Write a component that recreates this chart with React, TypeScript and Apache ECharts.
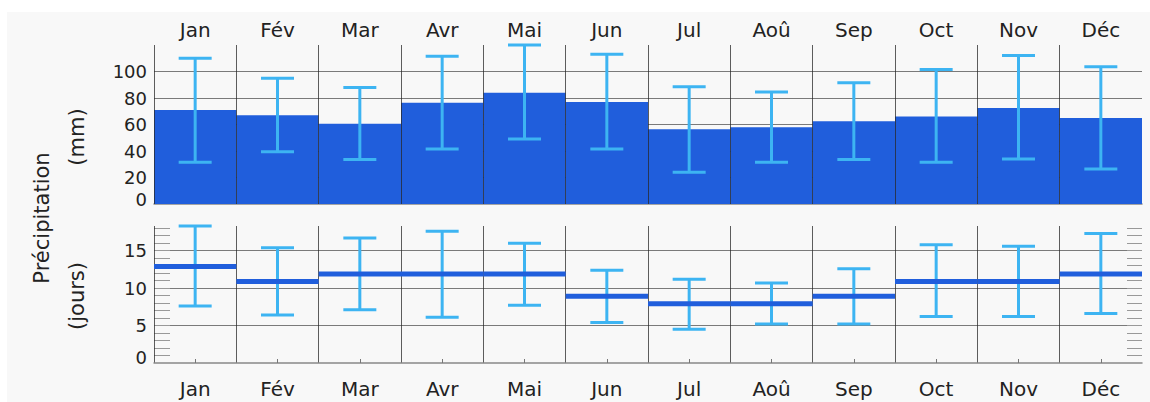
import React, { useEffect, useRef } from "react";
import * as echarts from "echarts";

const months = ["Jan", "Fév", "Mar", "Avr", "Mai", "Jun", "Jul", "Aoû", "Sep", "Oct", "Nov", "Déc"];

const precipMean = [71, 67, 60.5, 76.5, 84, 77, 56.5, 58, 62.5, 66, 72.5, 65];
const precipHigh = [110, 95, 88, 111.5, 120, 113, 88.5, 84.5, 91.5, 101.5, 112, 103.5];
const precipLow = [31.5, 39.5, 33.5, 41.5, 49, 41.5, 24, 31.5, 33.5, 31.5, 34, 26.5];

const daysMean = [12.9, 10.9, 11.9, 11.9, 11.9, 8.9, 7.9, 7.9, 8.9, 10.9, 10.9, 11.9];
const daysHigh = [18.3, 15.4, 16.7, 17.6, 16.0, 12.4, 11.2, 10.7, 12.6, 15.8, 15.6, 17.3];
const daysLow = [7.6, 6.4, 7.1, 6.1, 7.7, 5.4, 4.5, 5.2, 5.2, 6.2, 6.2, 6.6];

const precipLabels = [0, 20, 40, 60, 80, 100];
const daysLabels = [0, 5, 10, 15];
const daysMinorTicks = [1, 2, 3, 4, 5, 6, 7, 8, 9, 10, 11, 12, 13, 14, 15, 16, 17, 18];

const FONT = "DejaVu Sans";
const TXT = "#222";
const BAR = "#205edc";
const ERR = "#3db4f2";
const GRID = "#7a7a7a";
const VLINE = "rgba(40,40,40,0.75)";

export default function App() {
  const ref = useRef<HTMLDivElement>(null);

  useEffect(() => {
    if (!ref.current) return;
    const chart = echarts.init(ref.current, undefined, { renderer: "svg" });

    const errRender = (params: any, api: any) => {
      const lo = api.coord([api.value(0), api.value(1)]);
      const hi = api.coord([api.value(0), api.value(2)]);
      const half = 16.5;
      const style = { stroke: ERR, lineWidth: 3 };
      return {
        type: "group",
        children: [
          { type: "line", shape: { x1: lo[0], y1: lo[1], x2: hi[0], y2: hi[1] }, style },
          { type: "line", shape: { x1: hi[0] - half, y1: hi[1], x2: hi[0] + half, y2: hi[1] }, style },
          { type: "line", shape: { x1: lo[0] - half, y1: lo[1], x2: lo[0] + half, y2: lo[1] }, style },
        ],
      };
    };

    const meanRender = (params: any, api: any) => {
      const c = api.coord([api.value(0), api.value(1)]);
      const w = api.size([1, 0])[0];
      return {
        type: "line",
        shape: { x1: c[0] - w / 2, y1: c[1], x2: c[0] + w / 2, y2: c[1] },
        style: { stroke: BAR, lineWidth: 5 },
      };
    };

    const labelStyle = { fontSize: 18, fontFamily: FONT, color: TXT };

    chart.setOption({
      animation: false,
      textStyle: { fontFamily: FONT },
      grid: [
        { left: 154, top: 45, width: 988, height: 159 },
        { left: 154, top: 226, width: 988, height: 137 },
      ],
      xAxis: [
        {
          type: "category",
          gridIndex: 0,
          data: months,
          position: "top",
          z: 3,
          axisLine: { show: false },
          axisTick: { show: false },
          axisLabel: { interval: 0, margin: 5, fontSize: 20, fontFamily: FONT, color: TXT },
          splitLine: { show: true, interval: 0, showMaxLine: false, lineStyle: { color: VLINE, width: 1 } },
        },
        {
          type: "category",
          gridIndex: 0,
          data: months,
          position: "bottom",
          axisLine: { show: true, lineStyle: { color: "#888", width: 1.5 } },
          axisTick: { show: true, inside: true, alignWithLabel: true, interval: 0, length: 4, lineStyle: { color: "#777" } },
          axisLabel: { show: false },
          splitLine: { show: false },
        },
        {
          type: "category",
          gridIndex: 1,
          data: months,
          position: "bottom",
          z: 3,
          axisLine: { show: true, lineStyle: { color: "#888", width: 1.5 } },
          axisTick: { show: true, inside: true, alignWithLabel: true, interval: 0, length: 4, lineStyle: { color: "#777" } },
          axisLabel: { interval: 0, margin: 16, fontSize: 20, lineHeight: 20, fontFamily: FONT, color: TXT },
          splitLine: { show: true, interval: 0, showMaxLine: false, lineStyle: { color: VLINE, width: 1 } },
        },
      ],
      yAxis: [
        {
          type: "value",
          gridIndex: 0,
          min: 0,
          max: 120,
          interval: 20,
          axisLine: { show: false },
          axisTick: { show: false },
          axisLabel: {
            customValues: precipLabels,
            margin: 7,
            ...labelStyle,
            formatter: (v: number) => (v === 0 ? "{z|0}" : String(v)),
            rich: { z: { ...labelStyle, padding: [0, 0, 10, 0] } },
          },
          splitLine: { show: true, showMinLine: false, showMaxLine: false, lineStyle: { color: GRID, width: 1 } },
        },
        {
          type: "value",
          gridIndex: 1,
          min: 0,
          max: 18.3,
          interval: 5,
          axisLine: { show: false },
          axisTick: { show: false },
          axisLabel: {
            customValues: daysLabels,
            margin: 7,
            ...labelStyle,
            formatter: (v: number) => (v === 0 ? "{z|0}" : String(v)),
            rich: { z: { ...labelStyle, padding: [0, 0, 12, 0] } },
          },
          splitLine: { show: true, showMinLine: false, showMaxLine: false, lineStyle: { color: GRID, width: 1 } },
        },
        {
          type: "value",
          gridIndex: 1,
          min: 0,
          max: 18.3,
          position: "left",
          axisLine: { show: false },
          axisTick: { show: true, inside: true, length: 16, customValues: daysMinorTicks, lineStyle: { color: "#999" } },
          axisLabel: { show: false },
          splitLine: { show: false },
        },
        {
          type: "value",
          gridIndex: 1,
          min: 0,
          max: 18.3,
          position: "right",
          axisLine: { show: false },
          axisTick: { show: true, inside: true, length: 15, customValues: daysMinorTicks, lineStyle: { color: "#999" } },
          axisLabel: { show: false },
          splitLine: { show: false },
        },
      ],
      graphic: [
        {
          type: "text",
          x: 42,
          y: 218,
          rotation: Math.PI / 2,
          style: { text: "Précipitation", fontSize: 21, fontFamily: FONT, fill: TXT, textAlign: "center", textVerticalAlign: "middle" },
        },
        {
          type: "text",
          x: 77,
          y: 137,
          rotation: Math.PI / 2,
          style: { text: "(mm)", fontSize: 21, fontFamily: FONT, fill: TXT, textAlign: "center", textVerticalAlign: "middle" },
        },
        {
          type: "text",
          x: 77,
          y: 296,
          rotation: Math.PI / 2,
          style: { text: "(jours)", fontSize: 21, fontFamily: FONT, fill: TXT, textAlign: "center", textVerticalAlign: "middle" },
        },
      ],
      series: [
        {
          type: "bar",
          xAxisIndex: 0,
          yAxisIndex: 0,
          data: precipMean,
          barWidth: "100%",
          barCategoryGap: 0,
          itemStyle: { color: BAR },
        },
        {
          type: "custom",
          xAxisIndex: 0,
          yAxisIndex: 0,
          z: 4,
          renderItem: errRender,
          encode: { x: 0, y: [1, 2] },
          data: months.map((_, i) => [i, precipLow[i], precipHigh[i]]),
        },
        {
          type: "custom",
          xAxisIndex: 2,
          yAxisIndex: 1,
          z: 4,
          renderItem: errRender,
          encode: { x: 0, y: [1, 2] },
          data: months.map((_, i) => [i, daysLow[i], daysHigh[i]]),
        },
        {
          type: "custom",
          xAxisIndex: 2,
          yAxisIndex: 1,
          z: 5,
          renderItem: meanRender,
          encode: { x: 0, y: 1 },
          data: months.map((_, i) => [i, daysMean[i]]),
        },
      ],
    });

    return () => chart.dispose();
  }, []);

  return (
    <div style={{ position: "absolute", left: 0, top: 0, width: 1150, height: 402, background: "#fff" }}>
      <div style={{ position: "absolute", left: 7, top: 12, width: 1143, height: 390, background: "#f8f8f8" }} />
      <div ref={ref} style={{ position: "absolute", left: 0, top: 0, width: 1150, height: 402 }} />
    </div>
  );
}
